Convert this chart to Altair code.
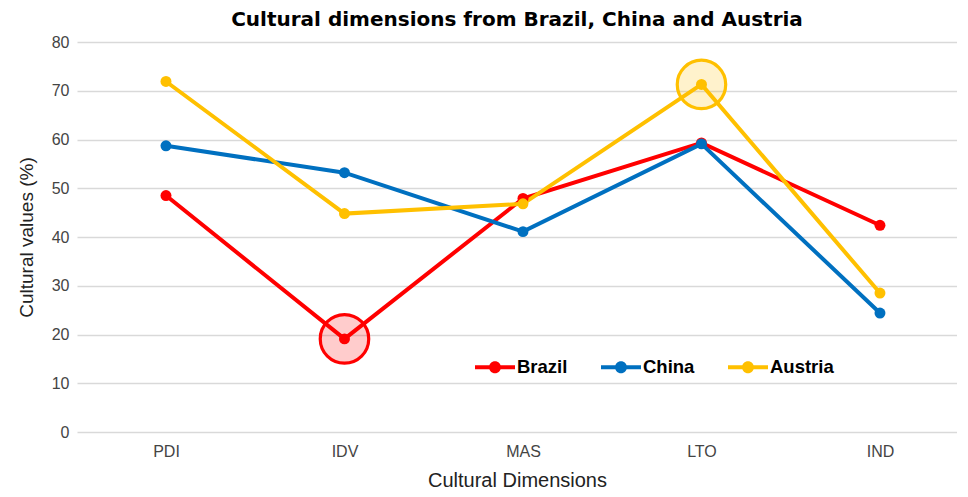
import altair as alt
import pandas as pd

dimensions = ["PDI", "IDV", "MAS", "LTO", "IND"]
countries = ["Brazil", "China", "Austria"]
brazil = [48.5, 19.1, 47.9, 59.3, 42.4]
china = [58.7, 53.2, 41.1, 59.1, 24.4]
austria = [71.9, 44.8, 46.8, 71.3, 28.5]
colors = ["#FF0000", "#0070C0", "#FFC000"]

# highlighted points
hl_country = ["Brazil", "Austria"]
hl_dim = ["IDV", "LTO"]
hl_value = [19.1, 71.3]
hl_size = [2350, 2350]

rows = []
for c, vals in zip(countries, [brazil, china, austria]):
    for d, v in zip(dimensions, vals):
        rows.append({"Country": c, "Dimension": d, "Value": v})
df = pd.DataFrame(rows)
hl = pd.DataFrame({"Country": hl_country, "Dimension": hl_dim, "Value": hl_value, "Size": hl_size})

W, H = 880, 390
x = alt.X("Dimension:N", sort=dimensions,
          scale=alt.Scale(type="point", domain=dimensions, padding=0.465, align=0.536),
          axis=alt.Axis(title="Cultural Dimensions", labelAngle=0, domain=False, ticks=False,
                        grid=False, labelPadding=11, titlePadding=11, labelFontSize=16,
                        titleFontSize=20, labelColor="#444444", titleColor="#222222",
                        titleFontWeight="normal", labelFont="Liberation Sans", titleFont="Liberation Sans"))
y = alt.Y("Value:Q", scale=alt.Scale(domain=[0, 80], nice=False),
          axis=alt.Axis(title="Cultural values (%)", values=list(range(0, 81, 10)), domain=False,
                        ticks=False, gridColor="#d9d9d9", gridWidth=1.5, labelPadding=8,
                        titlePadding=15, labelFontSize=16, titleFontSize=19, labelColor="#444444",
                        titleColor="#222222", titleFontWeight="normal",
                        labelFont="Liberation Sans", titleFont="Liberation Sans"))
color_scale = alt.Scale(domain=countries, range=colors)

sym = ("M-1,-0.1L1,-0.1L1,0.1L-1,0.1Z "
       "M-0.3,0A0.3,0.3 0 1,1 0.3,0A0.3,0.3 0 1,1 -0.3,0Z")

legend = alt.Legend(title=None, orient="none", legendX=398, legendY=305,
                    direction="horizontal", symbolType=sym, symbolSize=1600,
                    symbolStrokeWidth=0, symbolOpacity=1, labelFontSize=18.5,
                    labelFontWeight="bold", labelColor="#000000",
                    labelFont="Liberation Sans", labelOffset=2,
                    columnPadding=33, gridAlign="each")

lines = alt.Chart(df).mark_line(strokeWidth=4).encode(
    x=x, y=y,
    color=alt.Color("Country:N", scale=color_scale, legend=legend),
    detail="Country:N",
)
points = alt.Chart(df).mark_point(filled=True, size=120, opacity=1).encode(
    x=x, y=y,
    color=alt.Color("Country:N", scale=color_scale),
)
rings = alt.Chart(hl).mark_point(filled=False, strokeWidth=3.2, opacity=1).encode(
    x=x, y=y,
    color=alt.Color("Country:N", scale=color_scale),
    size=alt.Size("Size:Q", scale=None),
)
fills = alt.Chart(hl).mark_point(filled=True, fillOpacity=0.2, strokeWidth=0).encode(
    x=x, y=y,
    fill=alt.Fill("Country:N", scale=alt.Scale(domain=countries, range=colors), legend=None),
    size=alt.Size("Size:Q", scale=None),
)

chart = alt.layer(lines, fills, rings, points).properties(
    width=W, height=H,
    title=alt.TitleParams("Cultural dimensions from Brazil, China and Austria", fontSize=20,
                          fontWeight="bold", font="DejaVu Sans", color="#000000",
                          anchor="middle", offset=4),
    autosize=alt.AutoSizeParams(type="none"),
    padding={"left": 69, "top": 34, "right": 0, "bottom": 57},
).configure_view(stroke=None)

chart.save("out.html", embed_options={"renderer": "svg", "actions": False})
